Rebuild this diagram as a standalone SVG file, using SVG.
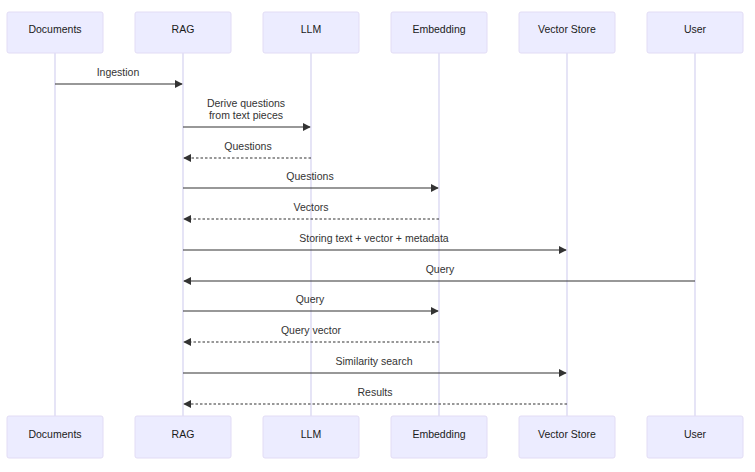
<svg xmlns="http://www.w3.org/2000/svg" width="755" height="472" viewBox="0 0 755 472">
<style>
.actor rect{fill:#ECECFF;stroke:#e2dcf5;stroke-width:1}
.actor text{font-family:"Liberation Sans",Arial,sans-serif;font-size:10.5px;fill:#1a1a1a;text-anchor:middle;dominant-baseline:central}
.life{stroke:#d8d6f2;stroke-width:1.3}
.msg{stroke:#333;stroke-width:1.2;fill:none}
.dash{stroke-dasharray:2.5,2}
.lbl{font-family:"Liberation Sans",Arial,sans-serif;font-size:10.5px;fill:#333;text-anchor:middle}
</style>
<defs>
<marker id="ah" viewBox="0 0 10 10" refX="9" refY="5" markerWidth="8" markerHeight="8" markerUnits="userSpaceOnUse" orient="auto">
<path d="M0,0 L10,5 L0,10 z" fill="#333"/>
</marker>
</defs>
<rect width="755" height="472" fill="#fff"/>
<g id="lifelines">
<line class="life" x1="55" y1="53" x2="55" y2="416"/>
<line class="life" x1="183" y1="53" x2="183" y2="416"/>
<line class="life" x1="311" y1="53" x2="311" y2="416"/>
<line class="life" x1="439" y1="53" x2="439" y2="416"/>
<line class="life" x1="567" y1="53" x2="567" y2="416"/>
<line class="life" x1="695" y1="53" x2="695" y2="416"/>
</g>
<g id="documents" class="actor"><rect x="7" y="12" width="96" height="41" rx="2"/><text x="55" y="29">Documents</text><rect x="7" y="416" width="96" height="42" rx="2"/><text x="55" y="434">Documents</text></g>
<g id="rag" class="actor"><rect x="135" y="12" width="96" height="41" rx="2"/><text x="183" y="29">RAG</text><rect x="135" y="416" width="96" height="42" rx="2"/><text x="183" y="434">RAG</text></g>
<g id="llm" class="actor"><rect x="263" y="12" width="96" height="41" rx="2"/><text x="311" y="29">LLM</text><rect x="263" y="416" width="96" height="42" rx="2"/><text x="311" y="434">LLM</text></g>
<g id="embedding" class="actor"><rect x="391" y="12" width="96" height="41" rx="2"/><text x="439" y="29">Embedding</text><rect x="391" y="416" width="96" height="42" rx="2"/><text x="439" y="434">Embedding</text></g>
<g id="vectorstore" class="actor"><rect x="519" y="12" width="96" height="41" rx="2"/><text x="567" y="29">Vector Store</text><rect x="519" y="416" width="96" height="42" rx="2"/><text x="567" y="434">Vector Store</text></g>
<g id="user" class="actor"><rect x="647" y="12" width="96" height="41" rx="2"/><text x="695" y="29">User</text><rect x="647" y="416" width="96" height="42" rx="2"/><text x="695" y="434">User</text></g>
<g id="connectors">
<line class="msg" x1="55" y1="84" x2="182" y2="84" marker-end="url(#ah)"/>
<text class="lbl" x="118" y="76">Ingestion</text>
<line class="msg" x1="183" y1="127" x2="310" y2="127" marker-end="url(#ah)"/>
<text class="lbl" x="246" y="107">Derive questions</text>
<text class="lbl" x="246" y="119">from text pieces</text>
<line class="msg dash" x1="311" y1="158" x2="184" y2="158" marker-end="url(#ah)"/>
<text class="lbl" x="248" y="150">Questions</text>
<line class="msg" x1="183" y1="188" x2="438" y2="188" marker-end="url(#ah)"/>
<text class="lbl" x="310" y="180">Questions</text>
<line class="msg dash" x1="439" y1="219" x2="184" y2="219" marker-end="url(#ah)"/>
<text class="lbl" x="311" y="211">Vectors</text>
<line class="msg" x1="183" y1="250" x2="566" y2="250" marker-end="url(#ah)"/>
<text class="lbl" x="374" y="242">Storing text + vector + metadata</text>
<line class="msg" x1="695" y1="281" x2="184" y2="281" marker-end="url(#ah)"/>
<text class="lbl" x="440" y="273">Query</text>
<line class="msg" x1="183" y1="311" x2="438" y2="311" marker-end="url(#ah)"/>
<text class="lbl" x="310" y="303">Query</text>
<line class="msg dash" x1="439" y1="342" x2="184" y2="342" marker-end="url(#ah)"/>
<text class="lbl" x="311" y="334">Query vector</text>
<line class="msg" x1="183" y1="373" x2="566" y2="373" marker-end="url(#ah)"/>
<text class="lbl" x="374" y="365">Similarity search</text>
<line class="msg dash" x1="567" y1="404" x2="184" y2="404" marker-end="url(#ah)"/>
<text class="lbl" x="375" y="396">Results</text>
</g>
</svg>
